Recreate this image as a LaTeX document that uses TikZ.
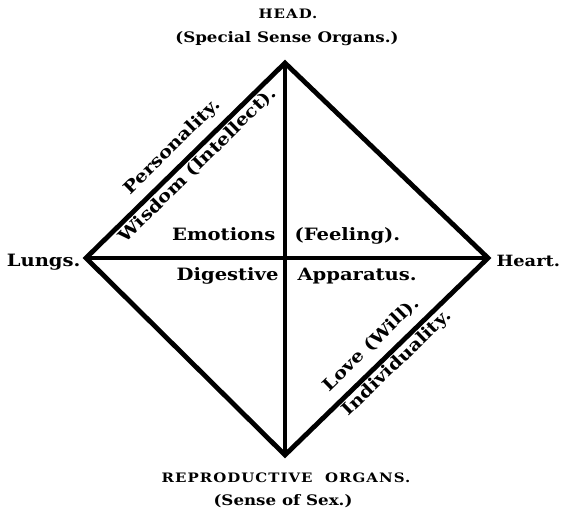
\documentclass[tikz,border=0pt]{standalone}
\usepackage{fontspec}
\setmainfont{DejaVu Serif}[FakeStretch=1.15]
\usetikzlibrary{positioning}

\begin{document}
\begin{tikzpicture}[x=1pt,y=-1pt,font=\fontsize{17}{19}\selectfont\bfseries,
  side/.style={line width=4.8pt},
  smallcap/.style={font=\fontsize{13}{15}\selectfont\bfseries\addfontfeature{LetterSpace=8}},
  sense/.style={font=\fontsize{14.5}{17}\selectfont\bfseries}]
  \useasboundingbox (0,0) rectangle (562,514);
  % corners of the diamond
  \coordinate (T) at (285,63);
  \coordinate (L) at (86,258);
  \coordinate (R) at (488,258);
  \coordinate (B) at (285,455);
  \coordinate (C) at (285,258);
  \draw[side] (T) -- (R) -- (B) -- (L) -- cycle;
  \draw[side] (T) -- (B);
  \draw[side] (L) -- (R);
  % ends
  \node[smallcap,anchor=base] (head) at (288,19) {HEAD.};
  \node[sense,anchor=base] (organs) at (287,42) {(Special Sense Organs.)};
  \node[anchor=base east] (lungs) at (84,266) {Lungs.};
  \node[anchor=base west,font=\fontsize{15.5}{18}\selectfont\bfseries] (heart) at (493,266) {Heart.};
  \node[smallcap,anchor=base] (repro) at (286,482) {REPRODUCTIVE\ \ ORGANS.};
  \node[sense,anchor=base] (sex) at (283,505) {(Sense of Sex.)};
  % middle
  \node[anchor=base east] (emo) at (279,240) {Emotions};
  \node[anchor=base west] (feel) at (291,240) {(Feeling).};
  \node[anchor=base east] (dig) at (282,280) {Digestive};
  \node[anchor=base west] (app) at (294,280) {Apparatus.};
  % along the sides
  \path (L) -- (T) node[pos=0.5,sloped,anchor=base,yshift=14pt] (pers) {Personality.}
                   node[pos=0.52,sloped,anchor=base,yshift=-17pt] (wis) {Wisdom (Intellect).};
  \path (B) -- (R) node[pos=0.49,sloped,anchor=base,yshift=14pt] (love) {Love (Will).}
                   node[pos=0.51,sloped,anchor=base,yshift=-17pt] (indiv) {Individuality.};
\end{tikzpicture}
\end{document}
